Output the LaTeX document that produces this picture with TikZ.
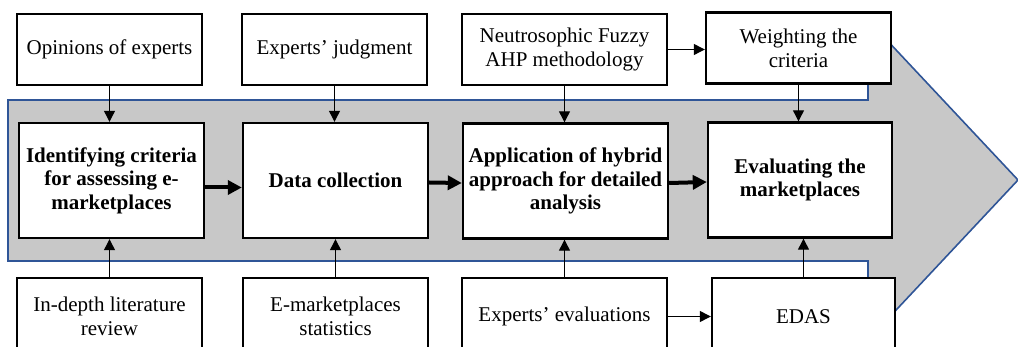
\documentclass[tikz,border=0pt]{standalone}
\usepackage{fontspec}
\setmainfont{Liberation Serif}
\usepackage{tikz}
\usetikzlibrary{positioning,
				arrows.meta,
				calc}

\definecolor{bandgray}{RGB}{200,200,200}
\definecolor{bandblue}{RGB}{47,85,151}

\begin{document}
\begin{tikzpicture}[x=0.5pt,y=-0.5pt,
  every node/.style={font=\fontsize{10.5}{12}\selectfont},
  box/.style={draw, line width=1.2pt, fill=white, align=center, minimum width=92.5pt, minimum height=35.5pt, inner sep=1pt},
  wide/.style={minimum width=102.5pt},
  stage/.style={box, minimum height=57.5pt, font=\fontsize{10.5}{11.8}\selectfont\bfseries},
  low/.style={minimum height=38.5pt},
  feed/.style={-{Triangle[length=5.5pt,width=5.5pt]}, line width=0.6pt},
  flow/.style={-{Triangle[length=7pt,width=7pt]}, line width=2pt}]
  \clip (0,0) rectangle (1018,347);
  % process band
  \filldraw[fill=bandgray, draw=bandblue, line width=0.8pt] (8,100) -- (868,100) -- (868,20) -- (1018,180) -- (868,340) -- (868,261) -- (8,261) -- cycle;

  \node[box] (opinions) at (109.5,49.5) {Opinions of experts};
  \node[box] (judgment) at (334.5,49.5) {Experts’ judgment};
  \node[box,wide] (neutro) at (564.5,49.5) {Neutrosophic Fuzzy\\AHP methodology};
  \node[box] (weight) at (798.5,48) {Weighting the\\criteria};

  \node[stage] (ident) at (111.5,180.5) {Identifying criteria\\for assessing e-\\marketplaces};
  \node[stage] (data) at (335.5,180.5) {Data collection};
  \node[stage,wide] (app) at (565.5,181) {Application of hybrid\\approach for detailed\\analysis};
  \node[stage,minimum width=92pt] (eval) at (800,180) {Evaluating the\\marketplaces};

  \node[box,low] (review) at (109.5,316.5) {In-depth literature\\review};
  \node[box,low] (stats) at (335.5,316.5) {E-marketplaces\\statistics};
  \node[box,low,wide] (expeval) at (564.5,316.5) {Experts’ evaluations};
  \node[box,low,minimum width=91.5pt] (edas) at (803.5,316.5) {EDAS};

  % inputs
  \draw[feed] (opinions) -- (opinions |- ident.north);
  \draw[feed] (judgment) -- (judgment |- data.north);
  \draw[feed] (neutro) -- (neutro |- app.north);
  \draw[feed] (weight) -- (weight |- eval.north);
  \draw[feed] (neutro) -- (neutro -| weight.west);
  \draw[feed] (review) -- (review |- ident.south);
  \draw[feed] (stats) -- (stats |- data.south);
  \draw[feed] (expeval) -- (expeval |- app.south);
  \draw[feed] (edas) -- (edas |- eval.south);
  \draw[feed] (expeval) -- (expeval -| edas.west);

  % main flow
  \draw[flow] ([yshift=-3.5pt]ident.east) -- ([yshift=-3.5pt]data.west);
  \draw[flow] ([yshift=-1pt]data.east) -- ([yshift=-1pt]app.west);
  \draw[flow] ([yshift=-1pt]app.east) -- ([yshift=-1pt]eval.west);
\end{tikzpicture}
\end{document}
